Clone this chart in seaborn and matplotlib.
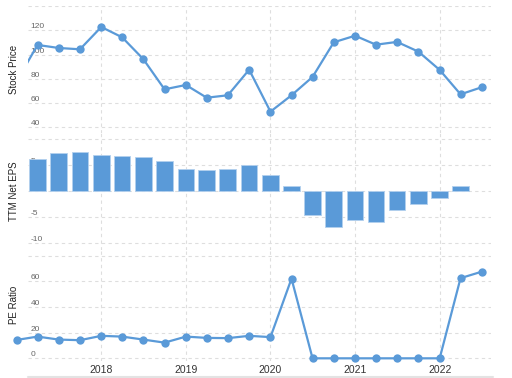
import matplotlib as mpl
from matplotlib import pyplot as plt
import numpy as np
import pandas as pd
import seaborn as sns

# quarter-end dates (first point sits just left of the visible range)
quarter_ends = [
    "2016-12-31", "2017-03-31", "2017-06-30", "2017-09-30", "2017-12-31",
    "2018-03-31", "2018-06-30", "2018-09-30", "2018-12-31", "2019-03-31",
    "2019-06-30", "2019-09-30", "2019-12-31", "2020-03-31", "2020-06-30",
    "2020-09-30", "2020-12-31", "2021-03-31", "2021-06-30", "2021-09-30",
    "2021-12-31", "2022-03-31", "2022-06-30",
]
stock_price = [
    78.0, 107.9, 105.4, 104.3, 122.7, 114.2, 96.3, 71.3, 74.9, 64.4,
    66.4, 87.5, 52.9, 66.4, 81.5, 110.1, 115.5, 108.1, 110.4, 102.4,
    87.3, 67.2, 73.0,
]
ttm_eps = [
    np.nan, 6.3, 7.4, 7.6, 7.05, 6.85, 6.7, 5.8, 4.4, 4.07,
    4.3, 5.1, 3.1, 1.1, -4.65, -6.85, -5.5, -5.9, -3.5, -2.4,
    -1.35, 1.1, np.nan,
]
pe_ratio = [
    14.3, 16.9, 14.6, 14.1, 17.5, 16.9, 14.6, 12.2, 16.9, 15.9,
    15.7, 17.5, 16.5, 62.0, 0.0, 0.0, 0.0, 0.0, 0.0, 0.0,
    0.0, 62.4, 67.4,
]

year_ticks = [2018, 2019, 2020, 2021, 2022]
year_labels = ["2018", "2019", "2020", "2021", "2022"]

price_ticks = [40, 60, 80, 100, 120, 140]
price_labels = ["40", "60", "80", "100", "120", ""]
eps_ticks = [-10, -5, 0, 5, 10]
eps_labels = ["-10", "-5", "0", "5", ""]
pe_ticks = [0, 20, 40, 60, 80]
pe_labels = ["0", "20", "40", "60", ""]

BLUE = "#5a9ad8"
GRID = "#dedede"

dates = pd.to_datetime(quarter_ends)
df = pd.DataFrame({
    "t": dates.year + dates.dayofyear / np.where(dates.is_leap_year, 366, 365),
    "price": stock_price,
    "eps": ttm_eps,
    "pe": pe_ratio,
})

sns.set_style("white")
plt.rcParams["font.family"] = ["Liberation Sans", "DejaVu Sans"]

W, H = 512, 378
fig = plt.figure(figsize=(W / 100, H / 100), dpi=100)


def px_axes(top, bottom, left=28, right=490.7):
    return fig.add_axes([left / W, 1 - bottom / H, (right - left) / W, (bottom - top) / H])


ax_price = px_axes(6, 133)
ax_eps = px_axes(133, 250)
ax_pe = px_axes(250, 360.5)

sns.lineplot(data=df, x="t", y="price", ax=ax_price, color=BLUE, linewidth=1.6,
             marker="o", markersize=6, markeredgewidth=0)
sns.barplot(data=df.dropna(subset=["eps"]), x="t", y="eps", ax=ax_eps,
            native_scale=True, color=BLUE, saturation=1, errorbar=None,
            edgecolor="#b3d0ee", linewidth=0.6)
sns.lineplot(data=df, x="t", y="pe", ax=ax_pe, color=BLUE, linewidth=1.6,
             marker="o", markersize=6, markeredgewidth=0, clip_on=False)

panels = [
    (ax_price, "Stock Price", price_ticks, price_labels, (35.3, 140)),
    (ax_eps, "TTM Net EPS", eps_ticks, eps_labels, (-11.3, 11.25)),
    (ax_pe, "PE Ratio", pe_ticks, pe_labels, (-1.7, 84.3)),
]
for ax, label, ticks, labels, ylim in panels:
    ax.set_xlim(2017.134, 2022.603)
    ax.set_ylim(*ylim)
    ax.set_yticks(ticks, labels)
    ax.set_xticks(year_ticks, year_labels if ax is ax_pe else [""] * len(year_ticks))
    ax.set_xlabel("")
    ax.set_ylabel(label, fontsize=7, color="#222222", labelpad=0)
    ax.yaxis.set_label_coords(-0.019, 0.5)
    ax.grid(True, color=GRID, linestyle=(0, (3, 3)), linewidth=0.8)
    ax.set_axisbelow(True)
    ax.tick_params(axis="y", length=0, pad=-2, labelsize=6, labelcolor="#666666")
    ax.tick_params(axis="x", length=0, pad=3, labelsize=7.5, labelcolor="#333333")
    for lab in ax.get_yticklabels():
        lab.set_horizontalalignment("left")
        lab.set_verticalalignment("bottom")
    for spine in ax.spines.values():
        spine.set_visible(False)
    ax.patch.set_alpha(0)

# light rule along the bottom of the chart
fig.add_artist(mpl.lines.Line2D([28 / W, 493 / W], [1 - 377 / H] * 2,
                                transform=fig.transFigure, color="#e3e3e3", linewidth=1.5))

fig.savefig("out.png", dpi=100)
